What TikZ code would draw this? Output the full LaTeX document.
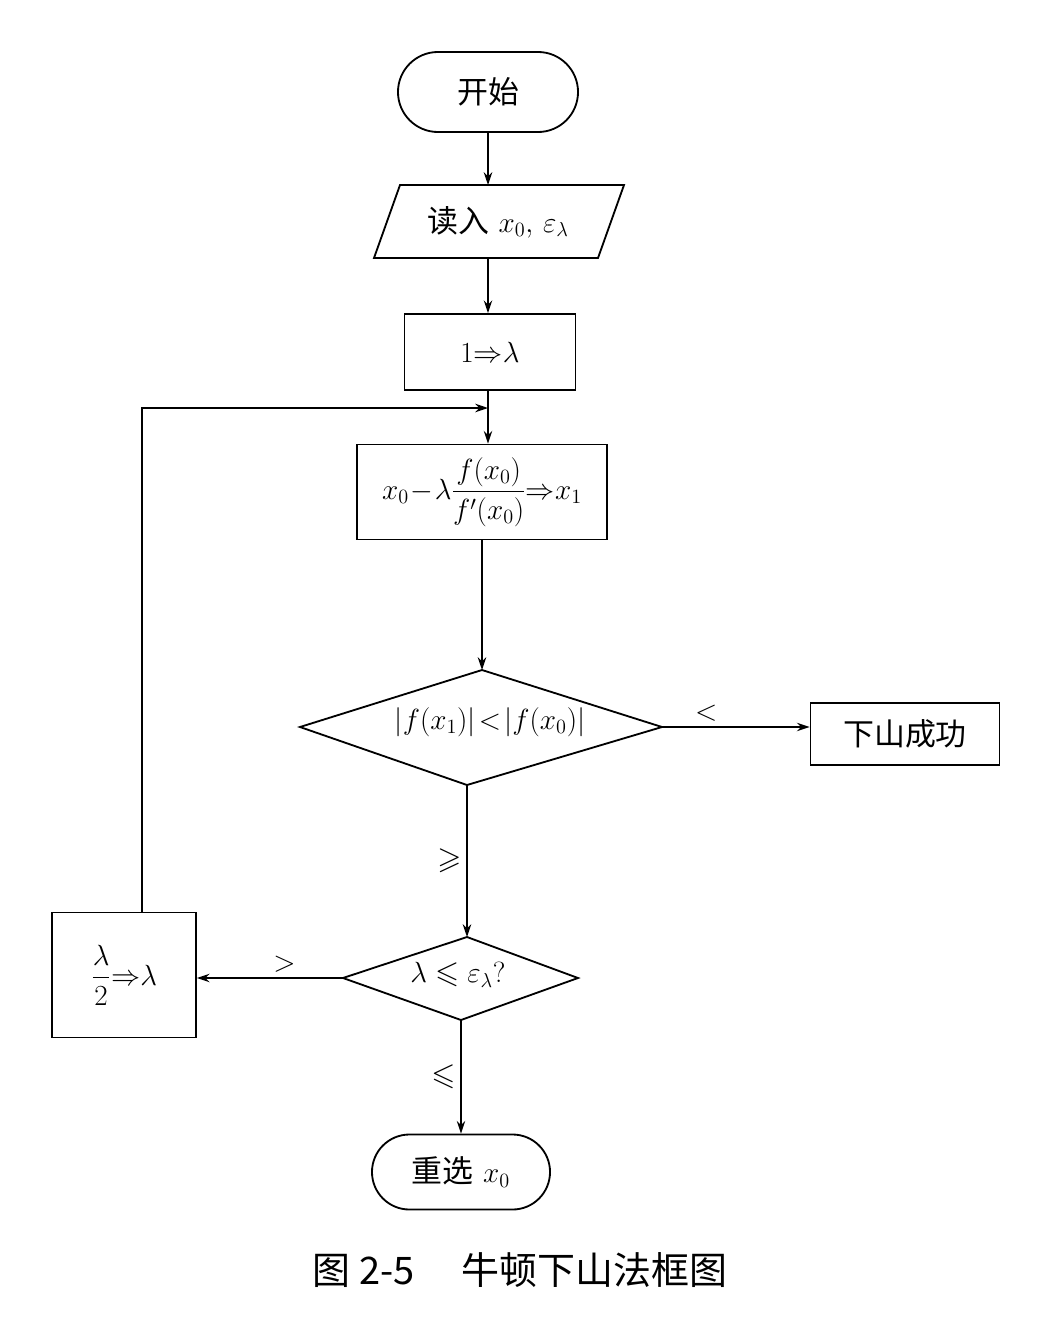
\documentclass[tikz,border=0pt]{standalone}
\usepackage{amsmath,amssymb}
\usepackage{fontspec}
\newfontfamily\cjk{Noto Sans CJK SC}
\usetikzlibrary{arrows.meta,shapes.misc}
\begin{document}
\begin{tikzpicture}[x=0.025cm,y=-0.025cm,line width=1.3pt,
  every node/.style={font=\fontsize{22}{26}\selectfont},
  box/.style={draw,rectangle,inner sep=0pt},
  term/.style={draw,rounded rectangle,inner sep=0pt},
  arr/.style={-{Stealth[length=9pt,width=6pt]}},
  lab/.style={font=\fontsize{22}{26}\selectfont}]
\useasboundingbox (0,0) rectangle (1055,1341);
\node[term,minimum width=4.5cm,minimum height=2cm] (start) at (488,92) {\cjk 开始};
% parallelogram
\coordinate (p1) at (400,185); \coordinate (p2) at (624,185);
\coordinate (p3) at (598,258); \coordinate (p4) at (374,258);
\draw (p1)--(p2)--(p3)--(p4)--cycle;
\node (read) at (498,222) {{\cjk 读入} $x_0,\,\varepsilon_\lambda$};
\coordinate (readt) at (488,185); \coordinate (readb) at (488,258);
\node[box,minimum width=4.275cm,minimum height=1.9cm] (init) at (490,352) {$1{\Rightarrow}\lambda$};
\node[box,minimum width=6.25cm,minimum height=2.375cm] (newton) at (482,492) {$x_0\!-\!\lambda\dfrac{f(x_0)}{f'(x_0)}{\Rightarrow}x_1$};
% diamond 1
\coordinate (d1t) at (482,670); \coordinate (d1r) at (662,727);
\coordinate (d1b) at (467,785); \coordinate (d1l) at (300,727);
\draw (d1t)--(d1r)--(d1b)--(d1l)--cycle;
\node (cmp) at (490,722) {$|f(x_1)|\!<\!|f(x_0)|$};
\node[box,minimum width=4.725cm,minimum height=1.55cm] (ok) at (905,734) {\cjk 下山成功};
% diamond 2
\coordinate (d2t) at (467,937); \coordinate (d2r) at (578,978);
\coordinate (d2b) at (461,1020); \coordinate (d2l) at (343,978);
\draw (d2t)--(d2r)--(d2b)--(d2l)--cycle;
\node (tst) at (458,975) {$\lambda\leqslant\varepsilon_\lambda?$};
\node[box,minimum width=3.6cm,minimum height=3.125cm] (half) at (124,975) {$\dfrac{\lambda}{2}{\Rightarrow}\lambda$};
\node[term,minimum width=4.45cm,minimum height=1.875cm] (end) at (461,1172) {{\cjk 重选} $x_0$};
\node[font=\fontsize{27}{32}\selectfont\cjk] (cap) at (520,1270) {图 2-5\quad\ 牛顿下山法框图};
% connectors
\draw[arr] (start.south) -- (readt);
\draw[arr] (readb) -- (readb |- init.north);
\coordinate (iq) at (488,390);
\draw[arr] (iq) -- (iq |- newton.north);
\draw[arr] (newton.south -| d1t) -- (d1t);
\draw[arr] (d1r) -- (d1r -| ok.west) node[lab,pos=0.3,above] {$<$};
\draw[arr] (d1b) -- (d2t) node[lab,pos=0.5,left] {$\geqslant$};
\draw[arr] (d2l) -- (d2l -| half.east) node[lab,pos=0.4,above] {$>$};
\draw[arr] (d2b) -- (end.north) node[lab,pos=0.5,left] {$\leqslant$};
\coordinate (lp) at (142,408); \coordinate (lq) at (488,408);
\draw[arr] (half.north -| lp) -- (lp) -- (lq);
\end{tikzpicture}
\end{document}
